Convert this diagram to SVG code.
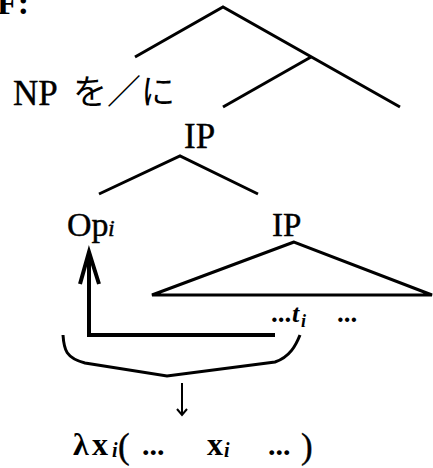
<svg xmlns="http://www.w3.org/2000/svg" width="433" height="468" viewBox="0 0 433 468">
<style>
.t{font-family:"Liberation Serif","Times New Roman",serif;fill:#000;stroke:#000;stroke-width:0.4}
.b{font-weight:bold;stroke-width:0}
.j{font-family:"Noto Sans CJK JP",sans-serif;fill:#000}
.e{stroke:#000;stroke-width:3;fill:none;stroke-linecap:butt}
.a{stroke:#000;stroke-width:4;fill:none}
</style>
<rect width="433" height="468" fill="#fff"/>
<g id="label-F"><text class="t b" x="-3" y="14" font-size="34">F:</text></g>
<g id="connectors">
<polyline class="e" points="135,57 223,7 400,107"/>
<line class="e" x1="311" y1="57" x2="223" y2="107"/>
<polyline class="e" points="99,194 180,156 258,194"/>
<polygon class="e" points="294,242 152,295 432,295"/>
<polyline class="a" points="89,254 89,335 275,335"/>
<polyline class="a" points="80,284 89,252 99,284"/>
<path class="e" d="M63,335 C64,350 66,358 85,363 L167,376 L275,362 C290,357 296,345 300,335"/>
<line stroke="#000" stroke-width="2" x1="182" y1="383" x2="182" y2="414"/>
<polyline stroke="#000" stroke-width="2" fill="none" points="177,409 182,415 187,409"/>
</g>
<g id="node-NP"><text class="t" x="13" y="105" font-size="35">NP</text><text class="j" x="73" y="104" font-size="34">を／に</text></g>
<g id="node-IP1"><text class="t" x="184" y="148" font-size="35">IP</text></g>
<g id="node-Op"><text class="t" x="67" y="236" font-size="34">Op</text><text class="t" x="108" y="236" font-size="24" font-style="italic">i</text></g>
<g id="node-IP2"><text class="t" x="272" y="236" font-size="33">IP</text></g>
<g id="node-trace"><text class="t b" x="271" y="322" font-size="27">...</text><text class="t b" x="292" y="322" font-size="26" font-style="italic">t</text><text class="t b" x="301" y="327" font-size="18" font-style="italic">i</text><text class="t b" x="337" y="322" font-size="27">...</text></g>
<g id="node-lambda"><text class="t b" x="73" y="455" font-size="32">λ</text><text class="t b" x="92" y="455" font-size="32">x</text><text class="t b" x="112" y="457" font-size="20" font-style="italic">i</text><text class="t" x="118" y="458" font-size="35">(</text><text class="t b" x="142" y="455" font-size="30">...</text><text class="t b" x="207" y="455" font-size="32">x</text><text class="t b" x="224" y="457" font-size="20" font-style="italic">i</text><text class="t b" x="268" y="455" font-size="30">...</text><text class="t" x="301" y="458" font-size="35">)</text></g>
</svg>
